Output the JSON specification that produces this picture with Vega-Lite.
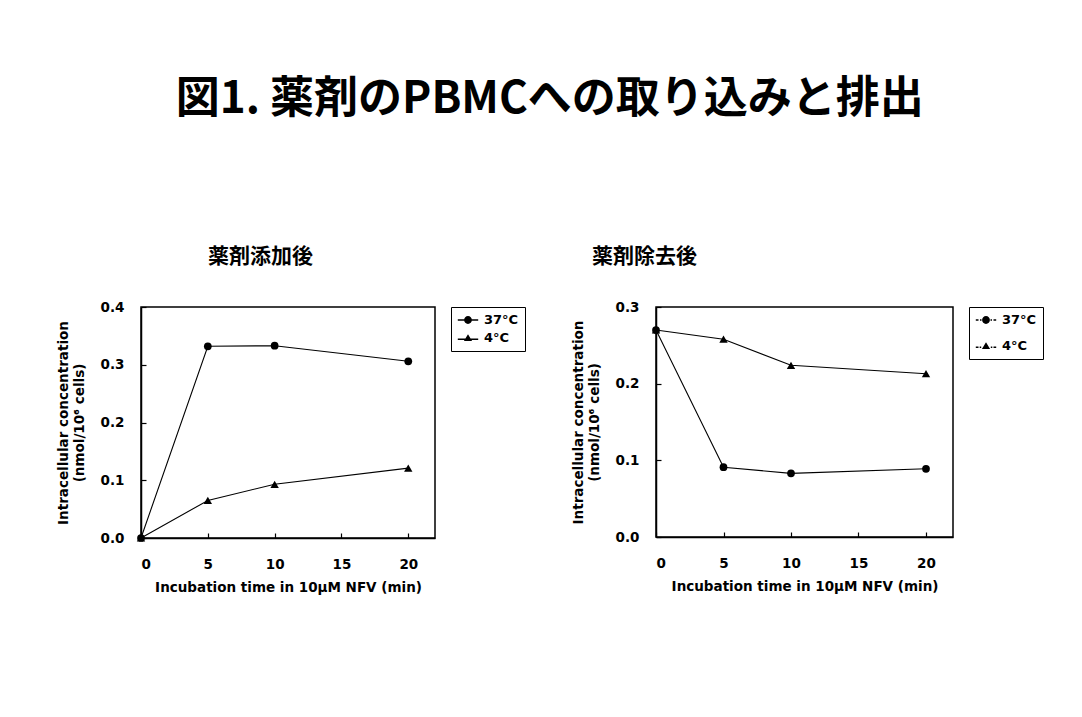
{
  "$schema": "https://vega.github.io/schema/vega-lite/v6.json",
  "autosize": {"type": "pad"},
  "padding": {"left": 55, "top": 78, "right": 5, "bottom": 5},
  "background": "white",
  "title": {
    "text": "図1. 薬剤のPBMCへの取り込みと排出",
    "fontSize": 44,
    "font": "Noto Sans CJK JP",
    "fontWeight": "bold",
    "color": "black",
    "anchor": "middle",
    "offset": 123
  },
  "datasets": {
    "pts": [
      {"panel": "A", "series": "37°C", "time": 0, "value": 0.0},
      {"panel": "A", "series": "37°C", "time": 5, "value": 0.332},
      {"panel": "A", "series": "37°C", "time": 10, "value": 0.333},
      {"panel": "A", "series": "37°C", "time": 20, "value": 0.306},
      {"panel": "A", "series": "4°C", "time": 0, "value": 0.0},
      {"panel": "A", "series": "4°C", "time": 5, "value": 0.065},
      {"panel": "A", "series": "4°C", "time": 10, "value": 0.093},
      {"panel": "A", "series": "4°C", "time": 20, "value": 0.121},
      {"panel": "B", "series": "37°C", "time": 0, "value": 0.27},
      {"panel": "B", "series": "37°C", "time": 5, "value": 0.091},
      {"panel": "B", "series": "37°C", "time": 10, "value": 0.083},
      {"panel": "B", "series": "37°C", "time": 20, "value": 0.089},
      {"panel": "B", "series": "4°C", "time": 0, "value": 0.27},
      {"panel": "B", "series": "4°C", "time": 5, "value": 0.258},
      {"panel": "B", "series": "4°C", "time": 10, "value": 0.224},
      {"panel": "B", "series": "4°C", "time": 20, "value": 0.213}
    ]
  },
  "data": {"name": "pts"},
  "spacing": 43,
  "resolve": {"scale": {"x": "independent", "y": "independent", "shape": "independent"}, "legend": {"shape": "independent"}},
  "hconcat": [
    {
      "width": 294,
      "height": 231,
      "title": {"text": "薬剤添加後", "anchor": "start", "frame": "group", "dx": 67, "fontSize": 21, "font": "Noto Sans CJK JP", "fontWeight": "bold", "color": "black", "offset": 33},
      "transform": [{"filter": "datum.panel === 'A'"}],
      "encoding": {
        "x": {"field": "time", "type": "quantitative", "scale": {"domain": [0, 22], "nice": false}, "axis": {"values": [0, 5, 10, 15, 20], "title": "Incubation time in 10μM NFV (min)"}},
        "y": {"field": "value", "type": "quantitative", "scale": {"domain": [0, 0.4], "nice": false}, "axis": {"values": [0, 0.1, 0.2, 0.3, 0.4], "format": ".1f", "title": ["Intracellular concentration", "(nmol/10⁶ cells)"]}}
      },
      "layer": [
        {"mark": {"type": "line", "color": "black", "strokeWidth": 1.1}, "encoding": {"detail": {"field": "series"}}},
        {"transform": [{"filter": "datum.series === '37°C'"}], "mark": {"type": "point", "shape": "circle", "filled": true, "color": "black", "opacity": 1, "size": 60}},
        {"transform": [{"filter": "datum.series === '4°C'"}], "mark": {"type": "point", "shape": "triangle-up", "filled": true, "color": "black", "opacity": 1, "size": 70}},
        {"transform": [{"filter": "false"}], "mark": {"type": "point", "filled": true, "color": "black", "opacity": 1, "size": 144},
          "encoding": {"shape": {"field": "series", "type": "nominal", "scale": {"domain": ["37°C", "4°C"], "range": ["M-1.7,-0.12H1.7V0.12H-1.7ZM0.65,0A0.65,0.65,0,1,1,-0.65,0A0.65,0.65,0,1,1,0.65,0Z", "M-1.7,0.08H1.7V0.32H-1.7ZM0,-0.62L0.68,0.5L-0.68,0.5Z"]},
            "legend": {"title": null, "symbolSize": 144}}}}
      ]
    },
    {
      "width": 297,
      "height": 230,
      "title": {"text": "薬剤除去後", "anchor": "start", "frame": "group", "dx": -64, "fontSize": 21, "font": "Noto Sans CJK JP", "fontWeight": "bold", "color": "black", "offset": 33},
      "transform": [{"filter": "datum.panel === 'B'"}],
      "encoding": {
        "x": {"field": "time", "type": "quantitative", "scale": {"domain": [0, 22], "nice": false}, "axis": {"values": [0, 5, 10, 15, 20], "title": "Incubation time in 10μM NFV (min)"}},
        "y": {"field": "value", "type": "quantitative", "scale": {"domain": [0, 0.3], "nice": false}, "axis": {"values": [0, 0.1, 0.2, 0.3], "format": ".1f", "title": ["Intracellular concentration", "(nmol/10⁶ cells)"]}}
      },
      "layer": [
        {"mark": {"type": "line", "color": "black", "strokeWidth": 1.1}, "encoding": {"detail": {"field": "series"}}},
        {"transform": [{"filter": "datum.series === '37°C'"}], "mark": {"type": "point", "shape": "circle", "filled": true, "color": "black", "opacity": 1, "size": 60}},
        {"transform": [{"filter": "datum.series === '4°C'"}], "mark": {"type": "point", "shape": "triangle-up", "filled": true, "color": "black", "opacity": 1, "size": 70}},
        {"transform": [{"filter": "false"}], "mark": {"type": "point", "filled": true, "color": "black", "opacity": 1, "size": 144},
          "encoding": {"shape": {"field": "series", "type": "nominal", "scale": {"domain": ["37°C", "4°C"], "range": ["M-1.7,-0.12H-1.25V0.12H-1.7ZM-1,-0.12H-0.75V0.12H-1ZM0.75,-0.12H1V0.12H0.75ZM1.25,-0.12H1.7V0.12H1.25ZM0.65,0A0.65,0.65,0,1,1,-0.65,0A0.65,0.65,0,1,1,0.65,0Z", "M-1.7,0.08H-1.25V0.32H-1.7ZM-1.05,0.08H-0.8V0.32H-1.05ZM0.8,0.08H1.05V0.32H0.8ZM1.25,0.08H1.7V0.32H1.25ZM0,-0.62L0.68,0.5L-0.68,0.5Z"]},
            "legend": {"title": null, "symbolSize": 144, "rowPadding": 12}}}}
      ]
    }
  ],
  "config": {
    "view": {"stroke": "black", "strokeWidth": 1.5},
    "axis": {
      "grid": false,
      "domainColor": "black",
      "domainWidth": 1.5,
      "tickColor": "black",
      "tickSize": -5,
      "tickWidth": 1.2,
      "zindex": 1,
      "labelFont": "DejaVu Sans",
      "labelFontWeight": "bold",
      "labelFontSize": 13.5,
      "labelColor": "black",
      "titleFont": "DejaVu Sans",
      "titleFontWeight": "bold",
      "titleFontSize": 13.5,
      "titleColor": "black"
    },
    "axisX": {"labelPadding": 24, "titlePadding": 10, "labelAngle": 0},
    "axisY": {"labelPadding": 22, "titlePadding": 14, "titleLineHeight": 16},
    "legend": {
      "orient": "right",
      "offset": 16,
      "padding": 6,
      "strokeColor": "black",
      "strokeWidth": 1,
      "labelFont": "DejaVu Sans",
      "labelFontWeight": "bold",
      "labelFontSize": 13,
      "labelColor": "black",
      "labelOffset": 9,
      "symbolSize": 144,
      "rowPadding": 4,
      "symbolOffset": 4
    }
  }
}
